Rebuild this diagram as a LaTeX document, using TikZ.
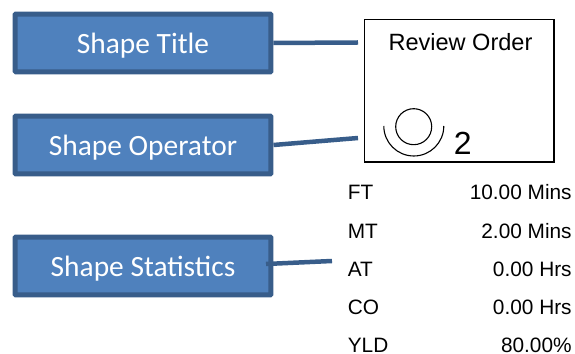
\documentclass[tikz,border=0pt]{standalone}
\usepackage{fontspec}
\setmainfont{Liberation Sans}
\newfontfamily\boxfont{Carlito}
\definecolor{boxfill}{HTML}{4F81BD}
\definecolor{boxedge}{HTML}{385D8A}
\tikzset{
    shapebox/.style={draw=boxedge, fill=boxfill, line width=0.1cm, rounded corners=0.02cm,
        minimum width=5.12cm, minimum height=1.16cm, text=white, text height=13.4pt, text depth=1pt,
        font=\boxfont\fontsize{16.75}{20}\selectfont},
    pointer/.style={boxedge, line width=0.09cm},
    statname/.style={anchor=west, inner sep=0pt, font=\fontsize{11.85}{14}\selectfont},
    statvalue/.style={anchor=east, inner sep=0pt, font=\fontsize{11.85}{14}\selectfont}
}
\begin{document}
\begin{tikzpicture}[x=0.02cm, y=-0.02cm]
    \useasboundingbox (0,0) rectangle (575,354);

    \node[shapebox] (title) at (143,43) {Shape Title};
    \node[shapebox] (operator) at (143,145) {Shape Operator};
    \node[shapebox] (statistics) at (143,266) {Shape Statistics};

    \node[draw, line width=0.03cm, minimum width=3.79cm, minimum height=2.85cm] (review) at (459.2,90.7) {};
    \node[inner sep=0pt, font=\fontsize{13.4}{16}\selectfont] (reviewname) at (460.5,42) {Review Order};
    \node[inner sep=0pt, font=\fontsize{18.2}{22}\selectfont] (count) at (462.7,143) {2};

    \coordinate (titleend) at (358,42.5);
    \coordinate (operatorend) at (358,138);
    \coordinate (statisticsstart) at (266,264);
    \coordinate (statisticsend) at (332,261);
    \draw[pointer] (title.east) -- (titleend);
    \draw[pointer] (operator.east) -- (operatorend);
    \draw[pointer] (statisticsstart) -- (statisticsend);

    \draw[black, line width=0.022cm] (413.7,126.7) circle (18);
    \draw[black, line width=0.022cm] (383.8,126) arc (180:0:30);

    \node[statname] (ftname) at (347.5,192) {FT};
    \node[statname] (mtname) at (347.5,231) {MT};
    \node[statname] (atname) at (347.5,269) {AT};
    \node[statname] (coname) at (347.5,307.5) {CO};
    \node[statname] (yldname) at (347.5,345) {YLD};
    \node[statvalue] (ftvalue) at (572,192) {10.00 Mins};
    \node[statvalue] (mtvalue) at (572,231) {2.00 Mins};
    \node[statvalue] (atvalue) at (572,269) {0.00 Hrs};
    \node[statvalue] (covalue) at (572,307.5) {0.00 Hrs};
    \node[statvalue] (yldvalue) at (572,345) {80.00\%};
\end{tikzpicture}
\end{document}
